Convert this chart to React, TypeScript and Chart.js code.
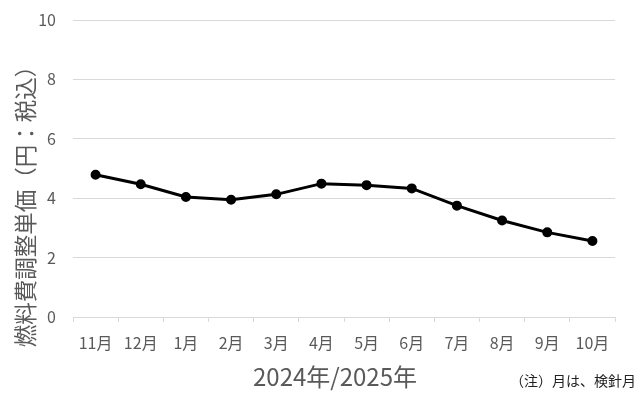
import React, { useEffect, useRef } from "react";
import { Chart, registerables } from "chart.js";

Chart.register(...registerables);

const months = ["11月", "12月", "1月", "2月", "3月", "4月", "5月", "6月", "7月", "8月", "9月", "10月"];
const unitPrices = [4.79, 4.47, 4.04, 3.95, 4.13, 4.49, 4.44, 4.33, 3.75, 3.25, 2.85, 2.56];
const yTitle = "燃料費調整単価（円：税込）";
const xTitle = "2024年/2025年";
const noteText = "（注）月は、検針月";

const FONT = "'Noto Sans CJK JP', 'Noto Sans', sans-serif";
const TEXT = "#595959";
const GRID = "#d9d9d9";

export default function App() {
  const ref = useRef<HTMLCanvasElement | null>(null);

  useEffect(() => {
    if (!ref.current) return;
    const textPlugin = {
      id: "extraText",
      afterDraw(chart: any) {
        const ctx = chart.ctx;
        ctx.save();
        ctx.fillStyle = TEXT;
        ctx.textBaseline = "middle";
        ctx.textAlign = "center";
        ctx.font = `24px ${FONT}`;
        ctx.fillText(xTitle, 335, 377);
        ctx.save();
        ctx.translate(25, 201);
        ctx.rotate(-Math.PI / 2);
        ctx.font = `22.5px ${FONT}`;
        ctx.fillText(yTitle, 0, 0);
        ctx.restore();
        ctx.textAlign = "right";
        ctx.font = `14px ${FONT}`;
        ctx.fillStyle = "#222222";
        ctx.fillText(noteText, 636, 381);
        ctx.restore();
      },
    };
    const chart = new Chart(ref.current, {
      type: "line",
      data: {
        labels: months,
        datasets: [
          {
            data: unitPrices,
            borderColor: "#000000",
            backgroundColor: "#000000",
            borderWidth: 3,
            pointRadius: 3.5,
            pointBackgroundColor: "#000000",
            pointBorderColor: "#000000",
            tension: 0,
          },
        ],
      },
      options: {
        responsive: false,
        animation: false,
        layout: { padding: { left: 0, right: 25, top: 20, bottom: 0 } },
        plugins: { legend: { display: false }, tooltip: { enabled: false } },
        scales: {
          x: {
            offset: true,
            grid: { display: true, drawOnChartArea: false, offset: true, tickLength: 5, color: GRID },
            border: { display: true, color: GRID },
            ticks: { color: TEXT, font: { family: FONT, size: 16 }, padding: 11, maxRotation: 0, autoSkip: false },
            afterFit: (s: any) => { s.height = 83; },
          },
          y: {
            min: 0,
            max: 10,
            ticks: { stepSize: 2, color: TEXT, font: { family: FONT, size: 16 }, padding: 0 },
            grid: { color: GRID, drawTicks: true, tickLength: 17, tickColor: "rgba(0,0,0,0)" },
            border: { display: false },
            afterFit: (s: any) => { s.width = 73; },
          },
        },
      },
      plugins: [textPlugin],
    });
    return () => chart.destroy();
  }, []);

  return (
    <div style={{ position: "absolute", left: 0, top: 0, width: 640, height: 400, background: "#fff" }}>
      <canvas ref={ref} width={640} height={400} />
    </div>
  );
}
